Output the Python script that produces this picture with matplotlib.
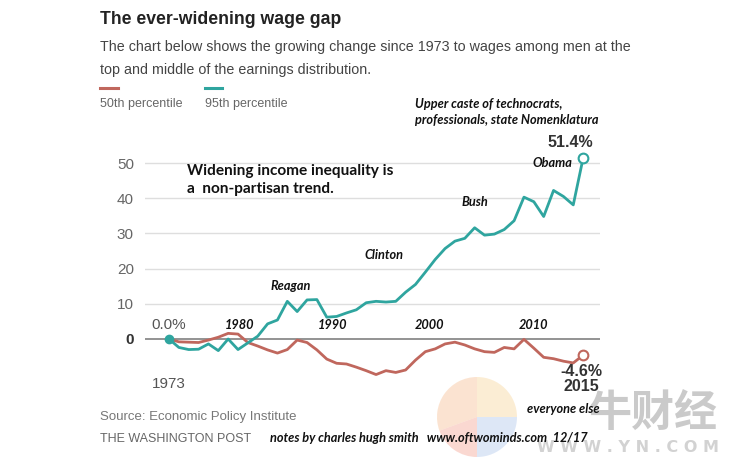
import matplotlib
matplotlib.use("Agg")
import matplotlib.pyplot as plt
from matplotlib.patches import Wedge

# data: % change in wages since 1973
years = list(range(1973, 2016))
p95 = [0, -2.4, -3.0, -2.9, -1.4, -3.3, 0, -3.0, -1.1, 0.8,
       4.3, 5.4, 10.7, 7.8, 11.1, 11.2, 6.2, 6.4, 7.4, 8.3,
       10.3, 10.7, 10.5, 10.7, 13.3, 15.5, 19.0, 22.6, 25.7, 27.8,
       28.6, 31.6, 29.5, 29.8, 31.1, 33.6, 40.3, 39.0, 34.8, 42.2,
       40.5, 38.1, 51.4]
p50 = [0, -0.8, -0.9, -1.0, -0.3, 0.5, 1.6, 1.4, -1.0, -2.0,
       -3.1, -4.0, -3.0, -0.3, -1.0, -3.1, -5.7, -6.9, -7.1, -8.0,
       -9.0, -10.1, -9.0, -9.5, -8.8, -6.0, -3.6, -2.8, -1.4, -0.9,
       -1.7, -2.8, -3.6, -3.8, -2.4, -2.8, -0.1, -2.6, -5.2, -5.6,
       -6.3, -6.8, -4.6]
yticks = [0, 10, 20, 30, 40, 50]
decades = [1980, 1990, 2000, 2010]
decade_pos = [(1980.2, 4.0), (1989.6, 4.0), (1999.4, 4.0), (2010.0, 4.0)]
presidents = ["Reagan", "Clinton", "Bush", "Obama"]
pres_pos = [(1985.3, 15.1), (1994.8, 23.9), (2004.0, 38.9), (2011.9, 50.0)]

TEAL = "#2fa59f"
RED = "#c0675d"
W, H = 739, 466


def fx(x):
    return x / W


def fy(y):
    return 1 - y / H


fig = plt.figure(figsize=(7.39, 4.66), dpi=100)
fig.patch.set_facecolor("white")

# faint watermark logo in the background
lax = fig.add_axes([fx(437), fy(457), 80 / W, 80 / H], zorder=-1)
lax.set_xlim(-1, 1)
lax.set_ylim(-1, 1)
lax.axis("off")
for t1, t2, c in [(90, 200, "#f8c9a4"), (200, 270, "#f6b2a4"),
                  (270, 360, "#bcd0ef"), (0, 90, "#f9dcaa")]:
    lax.add_patch(Wedge((0, 0), 1, t1, t2, facecolor=c, edgecolor="none",
                        alpha=0.5))
fig.text(fx(653), fy(414), "牛财经", fontsize=31, color="#cacaca",
         ha="center", va="center", family=["Noto Sans CJK SC"],
         weight="bold", zorder=0)
fig.text(fx(628), fy(447), "W W W . Y N . C O M", fontsize=11.5,
         color="#d2d2d2", ha="center", va="center", weight="bold", zorder=0)

left, right, top, bottom = 145, 600, 150, 385
ax = fig.add_axes([fx(left), fy(bottom), (right - left) / W, (bottom - top) / H])
ax.set_facecolor("none")
x0 = 1973 + (left - 169) / 9.86
x1 = 1973 + (right - 169) / 9.86
ax.set_xlim(x0, x1)
ax.set_ylim((339 - bottom) / 3.52, (339 - top) / 3.52)

for v in yticks:
    if v == 0:
        ax.axhline(v, color="#8a8a8a", lw=1.3, zorder=1)
    else:
        ax.axhline(v, color="#dedede", lw=1.0, zorder=1)
ax.set_yticks(yticks)
ax.set_yticklabels([str(v) for v in yticks], family="Liberation Sans",
                   fontsize=11, color="#666666")
ax.get_yticklabels()[0].set_color("#333333")
ax.get_yticklabels()[0].set_weight("bold")
ax.tick_params(axis="y", length=0, pad=8)
ax.set_xticks([])
for s in ax.spines.values():
    s.set_visible(False)

ax.plot(years, p50, color=RED, lw=2.0, zorder=3, solid_joinstyle="round")
ax.plot(years, p95, color=TEAL, lw=2.0, zorder=4, solid_joinstyle="round")
ax.plot(years[0], p95[0], "o", color=TEAL, ms=6, zorder=5)
ax.plot(years[-1], p95[-1], "o", mfc="white", mec=TEAL, mew=1.5, ms=7, zorder=5)
ax.plot(years[-1], p50[-1], "o", mfc="white", mec=RED, mew=1.5, ms=7, zorder=5)

bi = dict(family="Lato", style="italic", weight="bold", fontsize=9.2,
          color="#111111", ha="center", va="center")
for d, (dx, dy) in zip(decades, decade_pos):
    ax.text(dx, dy, str(d), **bi)
for p, (px_, py_) in zip(presidents, pres_pos):
    ax.text(px_, py_, p, **bi)

ax.text(1973, 4.0, "0.0%", family="Liberation Sans", fontsize=11,
        color="#555555", ha="center", va="center")
ax.text(1973, -12.8, "1973", family="Liberation Sans", fontsize=11,
        color="#555555", ha="center", va="center")
ax.text(2016.0, 55.7, "51.4%", family="Liberation Sans", fontsize=11.5,
        weight="bold", color="#333333", ha="right", va="center")
ax.text(2014.8, -9.3, "-4.6%", family="Liberation Sans", fontsize=11.5,
        weight="bold", color="#333333", ha="center", va="center", zorder=6)
ax.text(2014.8, -13.5, "2015", family="Liberation Sans", fontsize=11.5,
        weight="bold", color="#333333", ha="center", va="center", zorder=6)

# header
fig.text(fx(100), fy(20), "The ever-widening wage gap", family="Liberation Sans",
         weight="bold", fontsize=12.7, color="#222222", va="center")
fig.text(fx(100), fy(47), "The chart below shows the growing change since 1973 "
         "to wages among men at the", family="Liberation Sans", fontsize=10.3,
         color="#444444", va="center")
fig.text(fx(100), fy(70), "top and middle of the earnings distribution.",
         family="Liberation Sans", fontsize=10.3, color="#444444", va="center")

# legend
fig.add_artist(plt.Line2D([fx(100), fx(118)], [fy(88), fy(88)], color=RED,
                          lw=2.2, transform=fig.transFigure))
fig.add_artist(plt.Line2D([fx(205), fx(222)], [fy(88), fy(88)], color=TEAL,
                          lw=2.2, transform=fig.transFigure))
fig.text(fx(100), fy(104), "50th percentile", family="Liberation Sans",
         fontsize=9, color="#666666", va="center")
fig.text(fx(205), fy(104), "95th percentile", family="Liberation Sans",
         fontsize=9, color="#666666", va="center")

# notes
note = dict(family="Lato", style="italic", weight="bold", fontsize=9.2,
            color="#111111", va="center")
fig.text(fx(415), fy(104), "Upper caste of technocrats,", **note)
fig.text(fx(415), fy(120), "professionals, state Nomenklatura", **note)
fig.text(fx(187), fy(171), "Widening income inequality is", family="Lato",
         weight="bold", fontsize=11.1, color="#111111", va="center")
fig.text(fx(187), fy(189), "a  non-partisan trend.", family="Lato",
         weight="bold", fontsize=11.1, color="#111111", va="center")
fig.text(fx(600), fy(409), "everyone else", ha="right", zorder=6, **note)
fig.text(fx(270), fy(438), "notes by charles hugh smith   www.oftwominds.com  12/17",
         zorder=6, **note)

# footer
fig.text(fx(100), fy(417), "Source: Economic Policy Institute",
         family="Liberation Sans", fontsize=9.5, color="#777777", va="center")
fig.text(fx(100), fy(439), "THE WASHINGTON POST", family="Liberation Sans",
         fontsize=9, color="#666666", va="center")

fig.savefig("out.png", dpi=100)
